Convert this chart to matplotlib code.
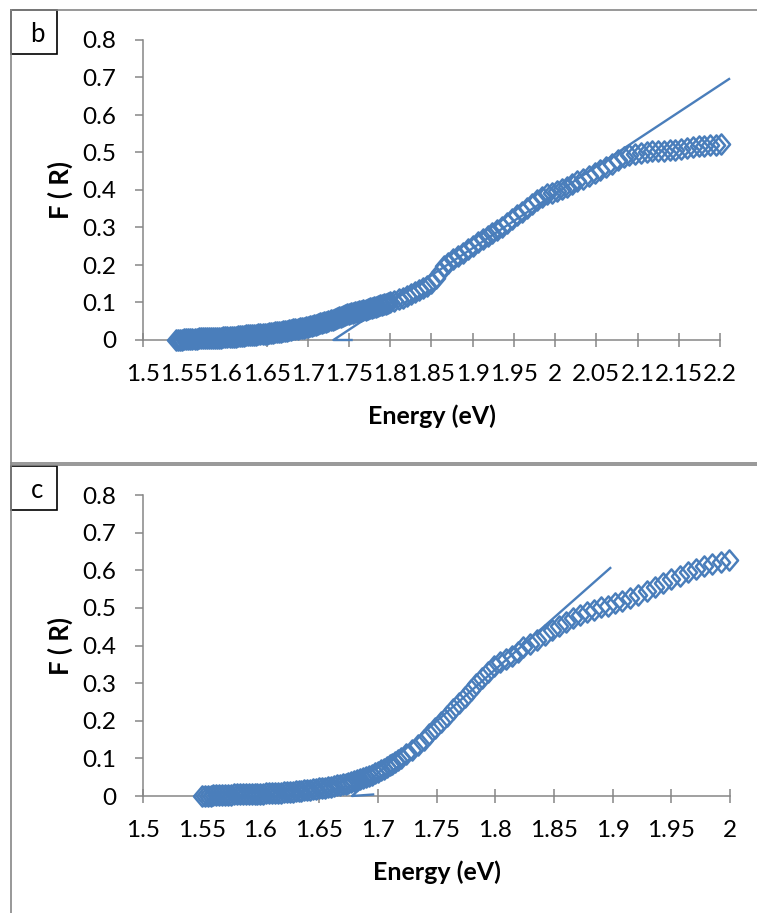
import numpy as np
import matplotlib
matplotlib.use("Agg")
import matplotlib.pyplot as plt
from matplotlib.lines import Line2D
from matplotlib.patches import Rectangle
from matplotlib.path import Path

plt.rcParams['font.family'] = ['Lato', 'DejaVu Sans']

# ---- panel b data (Energy eV, F(R)) ----
b_x = [1.5400, 1.5425, 1.5450, 1.5475, 1.5500, 1.5525, 1.5550, 1.5575,
       1.5600, 1.5625, 1.5650, 1.5675, 1.5700, 1.5725, 1.5750, 1.5775,
       1.5800, 1.5825, 1.5850, 1.5875, 1.5900, 1.5925, 1.5950, 1.5975,
       1.6000, 1.6025, 1.6050, 1.6075, 1.6100, 1.6125, 1.6150, 1.6175,
       1.6200, 1.6225, 1.6250, 1.6275, 1.6300, 1.6325, 1.6350, 1.6375,
       1.6400, 1.6425, 1.6450, 1.6475, 1.6500, 1.6525, 1.6550, 1.6575,
       1.6600, 1.6625, 1.6650, 1.6675, 1.6700, 1.6725, 1.6750, 1.6775,
       1.6800, 1.6825, 1.6850, 1.6875, 1.6900, 1.6925, 1.6950, 1.6975,
       1.7000, 1.7025, 1.7050, 1.7075, 1.7100, 1.7125, 1.7150, 1.7175,
       1.7200, 1.7225, 1.7250, 1.7275, 1.7300, 1.7325, 1.7350, 1.7375,
       1.7400, 1.7425, 1.7450, 1.7475, 1.7500, 1.7525, 1.7550, 1.7575,
       1.7600, 1.7625, 1.7650, 1.7675, 1.7700, 1.7725, 1.7750, 1.7775,
       1.7800, 1.7825, 1.7850, 1.7875, 1.7900, 1.7925, 1.7950, 1.7975,
       1.800, 1.805, 1.810, 1.815, 1.820, 1.825, 1.830, 1.835, 1.840, 1.845,
       1.850, 1.855, 1.860, 1.865, 1.870, 1.876, 1.882, 1.888, 1.894, 1.900,
       1.906, 1.912, 1.918, 1.924, 1.930, 1.936, 1.942, 1.948, 1.954, 1.960,
       1.966, 1.972, 1.978, 1.984, 1.990, 1.996, 2.002, 2.008, 2.014, 2.020,
       2.027, 2.034, 2.041, 2.048, 2.055, 2.062, 2.069, 2.076, 2.083, 2.090,
       2.097, 2.104, 2.111, 2.118, 2.125, 2.132, 2.139, 2.146, 2.153, 2.160,
       2.167, 2.174, 2.181, 2.188, 2.195, 2.201]
b_y = [0.000, 0.000, 0.001, 0.001, 0.002, 0.002, 0.002, 0.003,
       0.003, 0.003, 0.003, 0.004, 0.004, 0.004, 0.004, 0.005,
       0.005, 0.005, 0.005, 0.006, 0.006, 0.006, 0.006, 0.007,
       0.007, 0.007, 0.008, 0.008, 0.009, 0.009, 0.010, 0.010,
       0.011, 0.011, 0.012, 0.012, 0.013, 0.013, 0.014, 0.014,
       0.015, 0.015, 0.016, 0.016, 0.017, 0.018, 0.018, 0.019,
       0.020, 0.021, 0.021, 0.022, 0.023, 0.024, 0.025, 0.026,
       0.027, 0.028, 0.029, 0.030, 0.031, 0.032, 0.033, 0.034,
       0.035, 0.036, 0.038, 0.039, 0.041, 0.042, 0.044, 0.045,
       0.047, 0.049, 0.050, 0.052, 0.054, 0.056, 0.058, 0.060,
       0.062, 0.064, 0.066, 0.068, 0.069, 0.071, 0.072, 0.074,
       0.075, 0.077, 0.078, 0.080, 0.081, 0.083, 0.084, 0.086,
       0.087, 0.089, 0.090, 0.092, 0.093, 0.095, 0.096, 0.098,
       0.100, 0.104, 0.108, 0.112, 0.117, 0.122, 0.127, 0.132, 0.138, 0.144,
       0.152, 0.166, 0.182, 0.196, 0.205, 0.215, 0.224, 0.233, 0.242, 0.251,
       0.260, 0.268, 0.276, 0.284, 0.293, 0.302, 0.312, 0.322, 0.332, 0.342,
       0.352, 0.362, 0.372, 0.381, 0.388, 0.392, 0.396, 0.402, 0.409, 0.416,
       0.423, 0.430, 0.437, 0.444, 0.452, 0.461, 0.470, 0.479, 0.487, 0.492,
       0.496, 0.499, 0.501, 0.503, 0.504, 0.505, 0.506, 0.506, 0.508, 0.511,
       0.514, 0.516, 0.518, 0.520, 0.521, 0.523]
b_fit_x = [1.753, 1.731, 2.211]
b_fit_y = [0.000, 0.000, 0.696]
b_ticks = [1.5, 1.55, 1.6, 1.65, 1.7, 1.75, 1.8, 1.85, 1.9, 1.95, 2.0,
           2.05, 2.1, 2.15, 2.2]
b_labels = ['1.5', '1.55', '1.6', '1.65', '1.7', '1.75', '1.8', '1.85', '1.9',
            '1.95', '2', '2.05', '2.1', '2.15', '2.2']

# ---- panel c data ----
c_x = [1.5500, 1.5525, 1.5550, 1.5575, 1.5600, 1.5625, 1.5650, 1.5675,
       1.5700, 1.5725, 1.5750, 1.5775, 1.5800, 1.5825, 1.5850, 1.5875,
       1.5900, 1.5925, 1.5950, 1.5975, 1.6000, 1.6025, 1.6050, 1.6075,
       1.6100, 1.6125, 1.6150, 1.6175, 1.6200, 1.6225, 1.6250, 1.6275,
       1.6300, 1.6325, 1.6350, 1.6375, 1.6400, 1.6425, 1.6450, 1.6475,
       1.6500, 1.6525, 1.6550, 1.6575, 1.6600, 1.6625, 1.6650, 1.6675,
       1.6700, 1.6725, 1.6750, 1.6775, 1.6800, 1.6825, 1.6850, 1.6875,
       1.6900, 1.6925, 1.6950, 1.6975, 1.7000, 1.7025, 1.7050, 1.7075,
       1.7100, 1.7125, 1.7150, 1.7175, 1.7200,
       1.724, 1.729, 1.734, 1.739, 1.744,
       1.749, 1.754, 1.759, 1.764, 1.769, 1.774, 1.779, 1.784, 1.789, 1.794,
       1.799, 1.804, 1.809, 1.814, 1.819, 1.824, 1.830, 1.836, 1.842, 1.848,
       1.854, 1.860, 1.866, 1.872, 1.878, 1.884, 1.890, 1.896, 1.902, 1.908,
       1.915, 1.922, 1.929, 1.936, 1.943, 1.950, 1.957, 1.964, 1.971, 1.978,
       1.985, 1.992, 1.999]
c_y = [0.000, 0.000, 0.001, 0.001, 0.002, 0.002, 0.002, 0.003,
       0.003, 0.003, 0.003, 0.004, 0.004, 0.004, 0.004, 0.005,
       0.005, 0.005, 0.005, 0.006, 0.006, 0.006, 0.007, 0.007,
       0.008, 0.008, 0.009, 0.009, 0.010, 0.010, 0.011, 0.011,
       0.012, 0.013, 0.014, 0.015, 0.016, 0.017, 0.018, 0.019,
       0.020, 0.021, 0.022, 0.024, 0.025, 0.026, 0.028, 0.029,
       0.031, 0.033, 0.035, 0.037, 0.039, 0.042, 0.044, 0.047,
       0.050, 0.053, 0.056, 0.060, 0.063, 0.068, 0.072, 0.077,
       0.082, 0.086, 0.091, 0.096, 0.101,
       0.111, 0.123, 0.136, 0.150, 0.165,
       0.181, 0.197, 0.213, 0.230, 0.247, 0.264, 0.281, 0.298, 0.314, 0.330,
       0.345, 0.356, 0.364, 0.373, 0.384, 0.395, 0.404, 0.414, 0.428, 0.440,
       0.451, 0.462, 0.472, 0.481, 0.489, 0.495, 0.501, 0.506, 0.512, 0.518,
       0.526, 0.535, 0.545, 0.555, 0.565, 0.576, 0.586, 0.595, 0.604, 0.610,
       0.616, 0.621, 0.627]
c_fit_x = [1.696, 1.678, 1.898]
c_fit_y = [0.004, 0.000, 0.606]
c_ticks = [1.5, 1.55, 1.6, 1.65, 1.7, 1.75, 1.8, 1.85, 1.9, 1.95, 2.0]
c_labels = ['1.5', '1.55', '1.6', '1.65', '1.7', '1.75', '1.8', '1.85', '1.9',
            '1.95', '2']

y_ticks = [0, 0.1, 0.2, 0.3, 0.4, 0.5, 0.6, 0.7, 0.8]
y_labels = ['0', '0.1', '0.2', '0.3', '0.4', '0.5', '0.6', '0.7', '0.8']

blue = '#4a7ebb'
grey = '#868686'
W, H = 757, 913

# slightly tall diamond like the Excel marker
diamond = Path([(0, -1), (0.85, 0), (0, 1), (-0.85, 0), (0, -1)],
               [Path.MOVETO, Path.LINETO, Path.LINETO, Path.LINETO,
                Path.CLOSEPOLY])

fig = plt.figure(figsize=(7.57, 9.13), dpi=100)


def panel(rect, xs, ys, fx, fy, xt, xl, xmax):
    ax = fig.add_axes(rect)
    ax.plot(xs, ys, ls='none', marker=diamond, ms=14.5, mfc='none', mec=blue,
            mew=1.8, clip_on=False, zorder=3)
    ax.plot(fx, fy, color=blue, lw=1.7, clip_on=False, zorder=4)
    ax.set_xlim(1.5, xmax)
    ax.set_ylim(0, 0.8)
    ax.set_xticks(xt)
    ax.set_xticklabels(xl)
    ax.set_yticks(y_ticks)
    ax.set_yticklabels(y_labels)
    for s in ['top', 'right']:
        ax.spines[s].set_visible(False)
    for s in ['left', 'bottom']:
        ax.spines[s].set_color(grey)
        ax.spines[s].set_linewidth(1.1)
    ax.tick_params(axis='x', direction='inout', length=10, width=1.1,
                   color=grey, labelsize=17.5, pad=12)
    ax.tick_params(axis='y', direction='out', length=6, width=1.1,
                   color=grey, labelsize=17.5, pad=13)
    ax.set_xlabel('Energy (eV)', fontsize=18, fontweight='bold', labelpad=14)
    ax.set_ylabel('F ( R)', fontsize=18.5, fontweight='bold', labelpad=7)
    return ax


ax_b = panel([143 / W, 1 - 340 / H, (720 - 143) / W, 300 / H],
             b_x, b_y, b_fit_x, b_fit_y, b_ticks, b_labels, 2.2)
ax_c = panel([143 / W, 1 - 796 / H, (730 - 143) / W, 301 / H],
             c_x, c_y, c_fit_x, c_fit_y, c_ticks, c_labels, 2.0)

# panel frames
def fline(x0, y0, x1, y1, col=grey, lw=1.2):
    fig.add_artist(Line2D([x0 / W, x1 / W], [1 - y0 / H, 1 - y1 / H],
                          color=col, lw=lw))

fline(11, 10, 757, 10)
fline(11, 10, 11, 463)
fline(11, 463, 757, 463)
fline(11, 465.5, 757, 465.5)
fline(11, 465.5, 11, 913)

# letter boxes
for (y0, txt) in [(10, 'b'), (466, 'c')]:
    fig.add_artist(Rectangle((11 / W, 1 - (y0 + 44) / H), 46 / W, 44 / H,
                             fill=False, ec='black', lw=1.2))
    fig.text(37 / W, 1 - (y0 + 24) / H, txt, fontsize=18.5, ha='center',
             va='center')

fig.savefig('out.png', dpi=100)
